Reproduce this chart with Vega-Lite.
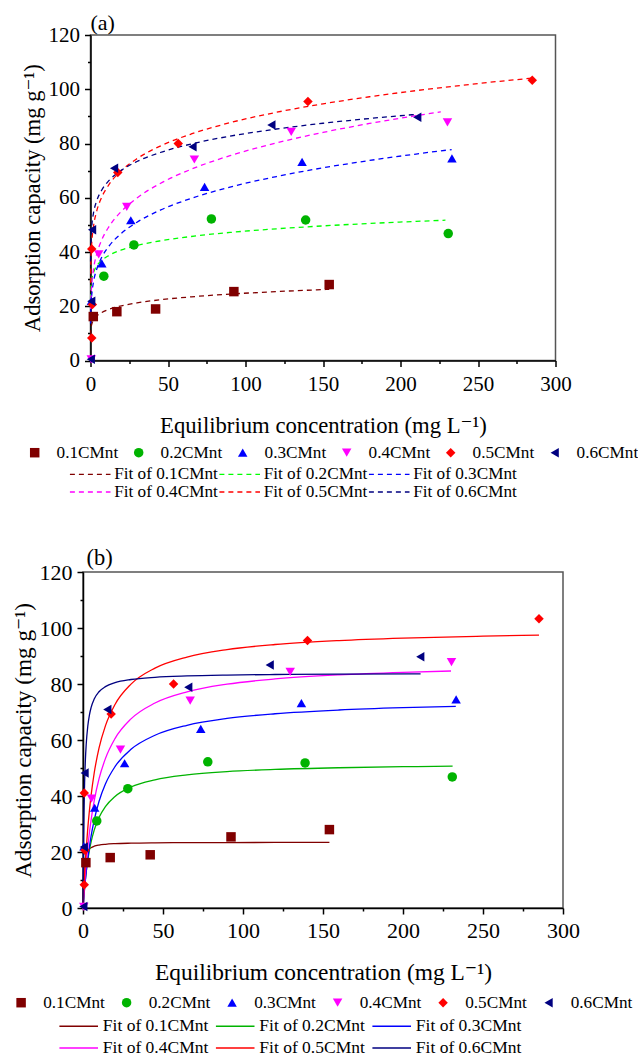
{
  "$schema": "https://vega.github.io/schema/vega-lite/v6.json",
  "background": "white",
  "padding": {"left": 10, "top": 11, "right": 0, "bottom": 0},
  "config": {
    "font": "Liberation Serif, Times New Roman, Times, DejaVu Serif, serif",
    "view": {"stroke": "#555555", "strokeWidth": 1.5},
    "axis": {"domainColor": "#000000", "domainWidth": 1.5, "tickColor": "#000000", "tickWidth": 1.5, "labelColor": "#000000", "titleColor": "#000000", "grid": false, "labelFont": "Liberation Serif, Times New Roman, Times, DejaVu Serif, serif", "titleFont": "Liberation Serif, Times New Roman, Times, DejaVu Serif, serif", "titleFontWeight": "normal", "labelOverlap": false, "labelFlush": false, "labelBound": false},
    "style": {"guide-label": {"font": "Liberation Serif, Times New Roman, Times, DejaVu Serif, serif"}, "guide-title": {"font": "Liberation Serif, Times New Roman, Times, DejaVu Serif, serif", "fontWeight": "normal"}},
    "legend": {"labelFont": "Liberation Serif, Times New Roman, Times, DejaVu Serif, serif", "labelColor": "#000000", "padding": 0},
    "title": {"font": "Liberation Serif, Times New Roman, Times, DejaVu Serif, serif", "fontWeight": "normal", "color": "#000000"}
  },
  "datasets": {
    "pts": [
      {"series": "0.1CMnt", "x": 1.8, "y": 16.2}, {"series": "0.1CMnt", "x": 17, "y": 18.0}, {"series": "0.1CMnt", "x": 42, "y": 19.0}, {"series": "0.1CMnt", "x": 92.5, "y": 25.4}, {"series": "0.1CMnt", "x": 154, "y": 28.0},
      {"series": "0.2CMnt", "x": 8.6, "y": 31.1}, {"series": "0.2CMnt", "x": 28, "y": 42.6}, {"series": "0.2CMnt", "x": 78, "y": 52.2}, {"series": "0.2CMnt", "x": 138.8, "y": 51.8}, {"series": "0.2CMnt", "x": 230.8, "y": 46.8},
      {"series": "0.3CMnt", "x": 0.6, "y": 22.0}, {"series": "0.3CMnt", "x": 7.3, "y": 35.8}, {"series": "0.3CMnt", "x": 26, "y": 51.7}, {"series": "0.3CMnt", "x": 73.6, "y": 64.0}, {"series": "0.3CMnt", "x": 136.5, "y": 73.2}, {"series": "0.3CMnt", "x": 233.2, "y": 74.5},
      {"series": "0.4CMnt", "x": 0.5, "y": 0.4}, {"series": "0.4CMnt", "x": 5.3, "y": 39.1}, {"series": "0.4CMnt", "x": 23.4, "y": 56.6}, {"series": "0.4CMnt", "x": 67, "y": 74.1}, {"series": "0.4CMnt", "x": 129.5, "y": 84.3}, {"series": "0.4CMnt", "x": 230.3, "y": 87.8},
      {"series": "0.5CMnt", "x": 0.8, "y": 8.3}, {"series": "0.5CMnt", "x": 1.2, "y": 20.6}, {"series": "0.5CMnt", "x": 0.8, "y": 41.1}, {"series": "0.5CMnt", "x": 17.6, "y": 69.3}, {"series": "0.5CMnt", "x": 56.6, "y": 80.0}, {"series": "0.5CMnt", "x": 140.3, "y": 95.5}, {"series": "0.5CMnt", "x": 285, "y": 103.3},
      {"series": "0.6CMnt", "x": 0.2, "y": 0.5}, {"series": "0.6CMnt", "x": 0.5, "y": 21.8}, {"series": "0.6CMnt", "x": 1.0, "y": 48.2}, {"series": "0.6CMnt", "x": 15.2, "y": 70.9}, {"series": "0.6CMnt", "x": 65.8, "y": 78.8}, {"series": "0.6CMnt", "x": 116.7, "y": 86.8}, {"series": "0.6CMnt", "x": 210.8, "y": 89.7}
    ],
    "fr": [
      {"fit": "Fit of 0.1CMnt", "x": 0.05, "y": 9.31}, {"fit": "Fit of 0.1CMnt", "x": 0.2, "y": 11.13}, {"fit": "Fit of 0.1CMnt", "x": 0.5, "y": 12.53}, {"fit": "Fit of 0.1CMnt", "x": 1, "y": 13.70}, {"fit": "Fit of 0.1CMnt", "x": 2, "y": 14.98}, {"fit": "Fit of 0.1CMnt", "x": 4, "y": 16.38}, {"fit": "Fit of 0.1CMnt", "x": 7, "y": 17.61}, {"fit": "Fit of 0.1CMnt", "x": 12, "y": 18.88}, {"fit": "Fit of 0.1CMnt", "x": 20, "y": 20.16}, {"fit": "Fit of 0.1CMnt", "x": 30, "y": 21.24}, {"fit": "Fit of 0.1CMnt", "x": 45, "y": 22.39}, {"fit": "Fit of 0.1CMnt", "x": 65, "y": 23.47}, {"fit": "Fit of 0.1CMnt", "x": 90, "y": 24.48}, {"fit": "Fit of 0.1CMnt", "x": 120, "y": 25.40}, {"fit": "Fit of 0.1CMnt", "x": 154, "y": 26.24},
      {"fit": "Fit of 0.2CMnt", "x": 0.05, "y": 22.68}, {"fit": "Fit of 0.2CMnt", "x": 0.2, "y": 25.97}, {"fit": "Fit of 0.2CMnt", "x": 0.5, "y": 28.41}, {"fit": "Fit of 0.2CMnt", "x": 1, "y": 30.40}, {"fit": "Fit of 0.2CMnt", "x": 2, "y": 32.53}, {"fit": "Fit of 0.2CMnt", "x": 4, "y": 34.81}, {"fit": "Fit of 0.2CMnt", "x": 7, "y": 36.77}, {"fit": "Fit of 0.2CMnt", "x": 12, "y": 38.76}, {"fit": "Fit of 0.2CMnt", "x": 20, "y": 40.75}, {"fit": "Fit of 0.2CMnt", "x": 30, "y": 42.40}, {"fit": "Fit of 0.2CMnt", "x": 45, "y": 44.11}, {"fit": "Fit of 0.2CMnt", "x": 65, "y": 45.72}, {"fit": "Fit of 0.2CMnt", "x": 90, "y": 47.21}, {"fit": "Fit of 0.2CMnt", "x": 120, "y": 48.55}, {"fit": "Fit of 0.2CMnt", "x": 150, "y": 49.62}, {"fit": "Fit of 0.2CMnt", "x": 180, "y": 50.52}, {"fit": "Fit of 0.2CMnt", "x": 210, "y": 51.28}, {"fit": "Fit of 0.2CMnt", "x": 229, "y": 51.72},
      {"fit": "Fit of 0.3CMnt", "x": 0.05, "y": 13.65}, {"fit": "Fit of 0.3CMnt", "x": 0.2, "y": 18.16}, {"fit": "Fit of 0.3CMnt", "x": 0.5, "y": 21.93}, {"fit": "Fit of 0.3CMnt", "x": 1, "y": 25.30}, {"fit": "Fit of 0.3CMnt", "x": 2, "y": 29.18}, {"fit": "Fit of 0.3CMnt", "x": 4, "y": 33.66}, {"fit": "Fit of 0.3CMnt", "x": 7, "y": 37.78}, {"fit": "Fit of 0.3CMnt", "x": 12, "y": 42.21}, {"fit": "Fit of 0.3CMnt", "x": 20, "y": 46.90}, {"fit": "Fit of 0.3CMnt", "x": 30, "y": 50.98}, {"fit": "Fit of 0.3CMnt", "x": 45, "y": 55.43}, {"fit": "Fit of 0.3CMnt", "x": 65, "y": 59.78}, {"fit": "Fit of 0.3CMnt", "x": 90, "y": 63.93}, {"fit": "Fit of 0.3CMnt", "x": 120, "y": 67.82}, {"fit": "Fit of 0.3CMnt", "x": 150, "y": 71.03}, {"fit": "Fit of 0.3CMnt", "x": 180, "y": 73.74}, {"fit": "Fit of 0.3CMnt", "x": 210, "y": 76.12}, {"fit": "Fit of 0.3CMnt", "x": 233, "y": 77.77},
      {"fit": "Fit of 0.4CMnt", "x": 0.05, "y": 15.60}, {"fit": "Fit of 0.4CMnt", "x": 0.2, "y": 20.88}, {"fit": "Fit of 0.4CMnt", "x": 0.5, "y": 25.32}, {"fit": "Fit of 0.4CMnt", "x": 1, "y": 29.30}, {"fit": "Fit of 0.4CMnt", "x": 2, "y": 33.90}, {"fit": "Fit of 0.4CMnt", "x": 4, "y": 39.22}, {"fit": "Fit of 0.4CMnt", "x": 7, "y": 44.12}, {"fit": "Fit of 0.4CMnt", "x": 12, "y": 49.42}, {"fit": "Fit of 0.4CMnt", "x": 20, "y": 55.03}, {"fit": "Fit of 0.4CMnt", "x": 30, "y": 59.93}, {"fit": "Fit of 0.4CMnt", "x": 45, "y": 65.27}, {"fit": "Fit of 0.4CMnt", "x": 65, "y": 70.51}, {"fit": "Fit of 0.4CMnt", "x": 90, "y": 75.52}, {"fit": "Fit of 0.4CMnt", "x": 120, "y": 80.22}, {"fit": "Fit of 0.4CMnt", "x": 150, "y": 84.09}, {"fit": "Fit of 0.4CMnt", "x": 180, "y": 87.38}, {"fit": "Fit of 0.4CMnt", "x": 210, "y": 90.25}, {"fit": "Fit of 0.4CMnt", "x": 226, "y": 91.67},
      {"fit": "Fit of 0.5CMnt", "x": 0.05, "y": 28.65}, {"fit": "Fit of 0.5CMnt", "x": 0.2, "y": 35.24}, {"fit": "Fit of 0.5CMnt", "x": 0.5, "y": 40.40}, {"fit": "Fit of 0.5CMnt", "x": 1, "y": 44.80}, {"fit": "Fit of 0.5CMnt", "x": 2, "y": 49.68}, {"fit": "Fit of 0.5CMnt", "x": 4, "y": 55.09}, {"fit": "Fit of 0.5CMnt", "x": 7, "y": 59.89}, {"fit": "Fit of 0.5CMnt", "x": 12, "y": 64.91}, {"fit": "Fit of 0.5CMnt", "x": 20, "y": 70.05}, {"fit": "Fit of 0.5CMnt", "x": 30, "y": 74.41}, {"fit": "Fit of 0.5CMnt", "x": 45, "y": 79.06}, {"fit": "Fit of 0.5CMnt", "x": 65, "y": 83.51}, {"fit": "Fit of 0.5CMnt", "x": 90, "y": 87.67}, {"fit": "Fit of 0.5CMnt", "x": 120, "y": 91.51}, {"fit": "Fit of 0.5CMnt", "x": 150, "y": 94.62}, {"fit": "Fit of 0.5CMnt", "x": 180, "y": 97.23}, {"fit": "Fit of 0.5CMnt", "x": 210, "y": 99.49}, {"fit": "Fit of 0.5CMnt", "x": 250, "y": 102.10}, {"fit": "Fit of 0.5CMnt", "x": 285, "y": 104.12},
      {"fit": "Fit of 0.6CMnt", "x": 0.05, "y": 36.48}, {"fit": "Fit of 0.6CMnt", "x": 0.2, "y": 42.45}, {"fit": "Fit of 0.6CMnt", "x": 0.5, "y": 46.91}, {"fit": "Fit of 0.6CMnt", "x": 1, "y": 50.60}, {"fit": "Fit of 0.6CMnt", "x": 2, "y": 54.58}, {"fit": "Fit of 0.6CMnt", "x": 4, "y": 58.87}, {"fit": "Fit of 0.6CMnt", "x": 7, "y": 62.58}, {"fit": "Fit of 0.6CMnt", "x": 12, "y": 66.38}, {"fit": "Fit of 0.6CMnt", "x": 20, "y": 70.19}, {"fit": "Fit of 0.6CMnt", "x": 30, "y": 73.36}, {"fit": "Fit of 0.6CMnt", "x": 45, "y": 76.68}, {"fit": "Fit of 0.6CMnt", "x": 65, "y": 79.82}, {"fit": "Fit of 0.6CMnt", "x": 90, "y": 82.71}, {"fit": "Fit of 0.6CMnt", "x": 120, "y": 85.34}, {"fit": "Fit of 0.6CMnt", "x": 150, "y": 87.46}, {"fit": "Fit of 0.6CMnt", "x": 180, "y": 89.22}, {"fit": "Fit of 0.6CMnt", "x": 211, "y": 90.78}
    ],
    "lg": [
      {"fit": "Fit of 0.1CMnt", "x": 0.02, "y": 0.99}, {"fit": "Fit of 0.1CMnt", "x": 0.1, "y": 4.24}, {"fit": "Fit of 0.1CMnt", "x": 0.3, "y": 9.34}, {"fit": "Fit of 0.1CMnt", "x": 0.6, "y": 13.37}, {"fit": "Fit of 0.1CMnt", "x": 1, "y": 16.16}, {"fit": "Fit of 0.1CMnt", "x": 1.5, "y": 18.03}, {"fit": "Fit of 0.1CMnt", "x": 2, "y": 19.15}, {"fit": "Fit of 0.1CMnt", "x": 3, "y": 20.41}, {"fit": "Fit of 0.1CMnt", "x": 4, "y": 21.10}, {"fit": "Fit of 0.1CMnt", "x": 5, "y": 21.54}, {"fit": "Fit of 0.1CMnt", "x": 7, "y": 22.07}, {"fit": "Fit of 0.1CMnt", "x": 10, "y": 22.48}, {"fit": "Fit of 0.1CMnt", "x": 14, "y": 22.76}, {"fit": "Fit of 0.1CMnt", "x": 20, "y": 22.98}, {"fit": "Fit of 0.1CMnt", "x": 30, "y": 23.15}, {"fit": "Fit of 0.1CMnt", "x": 45, "y": 23.27}, {"fit": "Fit of 0.1CMnt", "x": 65, "y": 23.34}, {"fit": "Fit of 0.1CMnt", "x": 90, "y": 23.38}, {"fit": "Fit of 0.1CMnt", "x": 120, "y": 23.41}, {"fit": "Fit of 0.1CMnt", "x": 154, "y": 23.43},
      {"fit": "Fit of 0.2CMnt", "x": 0.1, "y": 0.84}, {"fit": "Fit of 0.2CMnt", "x": 0.3, "y": 2.44}, {"fit": "Fit of 0.2CMnt", "x": 0.6, "y": 4.66}, {"fit": "Fit of 0.2CMnt", "x": 1, "y": 7.33}, {"fit": "Fit of 0.2CMnt", "x": 1.5, "y": 10.27}, {"fit": "Fit of 0.2CMnt", "x": 2, "y": 12.84}, {"fit": "Fit of 0.2CMnt", "x": 3, "y": 17.15}, {"fit": "Fit of 0.2CMnt", "x": 4, "y": 20.60}, {"fit": "Fit of 0.2CMnt", "x": 5, "y": 23.43}, {"fit": "Fit of 0.2CMnt", "x": 7, "y": 27.79}, {"fit": "Fit of 0.2CMnt", "x": 10, "y": 32.30}, {"fit": "Fit of 0.2CMnt", "x": 14, "y": 36.22}, {"fit": "Fit of 0.2CMnt", "x": 20, "y": 39.85}, {"fit": "Fit of 0.2CMnt", "x": 30, "y": 43.22}, {"fit": "Fit of 0.2CMnt", "x": 45, "y": 45.80}, {"fit": "Fit of 0.2CMnt", "x": 65, "y": 47.54}, {"fit": "Fit of 0.2CMnt", "x": 90, "y": 48.70}, {"fit": "Fit of 0.2CMnt", "x": 120, "y": 49.48}, {"fit": "Fit of 0.2CMnt", "x": 160, "y": 50.09}, {"fit": "Fit of 0.2CMnt", "x": 200, "y": 50.46}, {"fit": "Fit of 0.2CMnt", "x": 231, "y": 50.66},
      {"fit": "Fit of 0.3CMnt", "x": 0.1, "y": 0.76}, {"fit": "Fit of 0.3CMnt", "x": 0.3, "y": 2.25}, {"fit": "Fit of 0.3CMnt", "x": 0.6, "y": 4.37}, {"fit": "Fit of 0.3CMnt", "x": 1, "y": 7.00}, {"fit": "Fit of 0.3CMnt", "x": 1.5, "y": 10.04}, {"fit": "Fit of 0.3CMnt", "x": 2, "y": 12.81}, {"fit": "Fit of 0.3CMnt", "x": 3, "y": 17.71}, {"fit": "Fit of 0.3CMnt", "x": 4, "y": 21.88}, {"fit": "Fit of 0.3CMnt", "x": 5, "y": 25.50}, {"fit": "Fit of 0.3CMnt", "x": 7, "y": 31.42}, {"fit": "Fit of 0.3CMnt", "x": 10, "y": 38.05}, {"fit": "Fit of 0.3CMnt", "x": 14, "y": 44.29}, {"fit": "Fit of 0.3CMnt", "x": 20, "y": 50.49}, {"fit": "Fit of 0.3CMnt", "x": 30, "y": 56.66}, {"fit": "Fit of 0.3CMnt", "x": 45, "y": 61.69}, {"fit": "Fit of 0.3CMnt", "x": 65, "y": 65.25}, {"fit": "Fit of 0.3CMnt", "x": 90, "y": 67.70}, {"fit": "Fit of 0.3CMnt", "x": 120, "y": 69.38}, {"fit": "Fit of 0.3CMnt", "x": 160, "y": 70.71}, {"fit": "Fit of 0.3CMnt", "x": 200, "y": 71.53}, {"fit": "Fit of 0.3CMnt", "x": 233, "y": 72.00},
      {"fit": "Fit of 0.4CMnt", "x": 0.1, "y": 0.96}, {"fit": "Fit of 0.4CMnt", "x": 0.3, "y": 2.81}, {"fit": "Fit of 0.4CMnt", "x": 0.6, "y": 5.45}, {"fit": "Fit of 0.4CMnt", "x": 1, "y": 8.72}, {"fit": "Fit of 0.4CMnt", "x": 1.5, "y": 12.46}, {"fit": "Fit of 0.4CMnt", "x": 2, "y": 15.87}, {"fit": "Fit of 0.4CMnt", "x": 3, "y": 21.83}, {"fit": "Fit of 0.4CMnt", "x": 4, "y": 26.89}, {"fit": "Fit of 0.4CMnt", "x": 5, "y": 31.23}, {"fit": "Fit of 0.4CMnt", "x": 7, "y": 38.28}, {"fit": "Fit of 0.4CMnt", "x": 10, "y": 46.10}, {"fit": "Fit of 0.4CMnt", "x": 14, "y": 53.35}, {"fit": "Fit of 0.4CMnt", "x": 20, "y": 60.50}, {"fit": "Fit of 0.4CMnt", "x": 30, "y": 67.53}, {"fit": "Fit of 0.4CMnt", "x": 45, "y": 73.21}, {"fit": "Fit of 0.4CMnt", "x": 65, "y": 77.20}, {"fit": "Fit of 0.4CMnt", "x": 90, "y": 79.93}, {"fit": "Fit of 0.4CMnt", "x": 120, "y": 81.80}, {"fit": "Fit of 0.4CMnt", "x": 160, "y": 83.27}, {"fit": "Fit of 0.4CMnt", "x": 200, "y": 84.17}, {"fit": "Fit of 0.4CMnt", "x": 230, "y": 84.65},
      {"fit": "Fit of 0.5CMnt", "x": 0.1, "y": 1.31}, {"fit": "Fit of 0.5CMnt", "x": 0.3, "y": 3.84}, {"fit": "Fit of 0.5CMnt", "x": 0.6, "y": 7.39}, {"fit": "Fit of 0.5CMnt", "x": 1, "y": 11.74}, {"fit": "Fit of 0.5CMnt", "x": 1.5, "y": 16.63}, {"fit": "Fit of 0.5CMnt", "x": 2, "y": 21.01}, {"fit": "Fit of 0.5CMnt", "x": 3, "y": 28.52}, {"fit": "Fit of 0.5CMnt", "x": 4, "y": 34.73}, {"fit": "Fit of 0.5CMnt", "x": 5, "y": 39.94}, {"fit": "Fit of 0.5CMnt", "x": 7, "y": 48.21}, {"fit": "Fit of 0.5CMnt", "x": 10, "y": 57.08}, {"fit": "Fit of 0.5CMnt", "x": 14, "y": 65.06}, {"fit": "Fit of 0.5CMnt", "x": 20, "y": 72.68}, {"fit": "Fit of 0.5CMnt", "x": 30, "y": 79.96}, {"fit": "Fit of 0.5CMnt", "x": 45, "y": 85.68}, {"fit": "Fit of 0.5CMnt", "x": 65, "y": 89.63}, {"fit": "Fit of 0.5CMnt", "x": 90, "y": 92.29}, {"fit": "Fit of 0.5CMnt", "x": 120, "y": 94.10}, {"fit": "Fit of 0.5CMnt", "x": 160, "y": 95.51}, {"fit": "Fit of 0.5CMnt", "x": 200, "y": 96.38}, {"fit": "Fit of 0.5CMnt", "x": 250, "y": 97.08}, {"fit": "Fit of 0.5CMnt", "x": 285, "y": 97.43},
      {"fit": "Fit of 0.6CMnt", "x": 0.02, "y": 1.87}, {"fit": "Fit of 0.6CMnt", "x": 0.1, "y": 8.60}, {"fit": "Fit of 0.6CMnt", "x": 0.3, "y": 21.41}, {"fit": "Fit of 0.6CMnt", "x": 0.6, "y": 34.12}, {"fit": "Fit of 0.6CMnt", "x": 1, "y": 44.75}, {"fit": "Fit of 0.6CMnt", "x": 1.5, "y": 53.00}, {"fit": "Fit of 0.6CMnt", "x": 2, "y": 58.39}, {"fit": "Fit of 0.6CMnt", "x": 3, "y": 65.00}, {"fit": "Fit of 0.6CMnt", "x": 4, "y": 68.89}, {"fit": "Fit of 0.6CMnt", "x": 5, "y": 71.46}, {"fit": "Fit of 0.6CMnt", "x": 7, "y": 74.64}, {"fit": "Fit of 0.6CMnt", "x": 10, "y": 77.23}, {"fit": "Fit of 0.6CMnt", "x": 14, "y": 79.05}, {"fit": "Fit of 0.6CMnt", "x": 20, "y": 80.47}, {"fit": "Fit of 0.6CMnt", "x": 30, "y": 81.61}, {"fit": "Fit of 0.6CMnt", "x": 45, "y": 82.40}, {"fit": "Fit of 0.6CMnt", "x": 65, "y": 82.88}, {"fit": "Fit of 0.6CMnt", "x": 90, "y": 83.19}, {"fit": "Fit of 0.6CMnt", "x": 120, "y": 83.39}, {"fit": "Fit of 0.6CMnt", "x": 160, "y": 83.54}, {"fit": "Fit of 0.6CMnt", "x": 211, "y": 83.65}
    ]
  },
  "spacing": 211,
  "bounds": "flush",
  "center": true,
  "resolve": {
    "scale": {"x": "independent", "y": "independent", "color": "independent", "shape": "independent", "stroke": "independent"},
    "axis": {"x": "independent", "y": "independent"},
    "legend": {"color": "independent", "shape": "independent", "stroke": "independent"}
  },
  "vconcat": [
    {
      "width": 465,
      "height": 325.5,
      "title": {"text": "(a)", "fontSize": 22, "offset": -11, "anchor": "start", "frame": "group"},
      "encoding": {
        "x": {"field": "x", "type": "quantitative", "scale": {"domain": [0, 300], "nice": false},
          "axis": {"values": [0, 25, 50, 75, 100, 125, 150, 175, 200, 225, 250, 275, 300], "labelExpr": "datum.value % 50 === 0 ? datum.label : ''", "tickSize": {"condition": {"test": "datum.value % 50 === 0", "value": 6}, "value": 3}, "labelFont": "Liberation Serif, Times New Roman, Times, DejaVu Serif, serif", "titleFont": "Liberation Serif, Times New Roman, Times, DejaVu Serif, serif", "labelFontSize": 21, "labelPadding": 6.5, "title": "Equilibrium concentration (mg L⁻¹)", "titleFontSize": 22.7, "titlePadding": 20}},
        "y": {"field": "y", "type": "quantitative", "scale": {"domain": [0, 120], "nice": false},
          "axis": {"values": [0, 10, 20, 30, 40, 50, 60, 70, 80, 90, 100, 110, 120], "labelExpr": "datum.value % 20 === 0 ? datum.label : ''", "tickSize": {"condition": {"test": "datum.value % 20 === 0", "value": 6}, "value": 3}, "labelFont": "Liberation Serif, Times New Roman, Times, DejaVu Serif, serif", "titleFont": "Liberation Serif, Times New Roman, Times, DejaVu Serif, serif", "labelFontSize": 21, "labelPadding": 5, "title": "Adsorption capacity (mg g⁻¹)", "titleFontSize": 22.6, "titlePadding": 4}}
      },
      "layer": [
        {
          "data": {"name": "fr"},
          "mark": {"type": "line", "strokeDash": [5, 4], "strokeWidth": 1.3, "interpolate": "monotone"},
          "encoding": {
            "stroke": {"field": "fit", "type": "nominal",
              "scale": {"domain": ["Fit of 0.1CMnt", "Fit of 0.2CMnt", "Fit of 0.3CMnt", "Fit of 0.4CMnt", "Fit of 0.5CMnt", "Fit of 0.6CMnt"], "range": ["#800000", "#00ff00", "#0000ff", "#ff00ff", "#ff0000", "#000080"]},
              "legend": {"orient": "none", "legendX": -21.3, "legendY": 431, "direction": "horizontal", "columns": 3, "columnPadding": 0.5, "rowPadding": 0, "labelFontSize": 17.2, "labelOffset": 3, "symbolType": "stroke", "symbolSize": 1650, "symbolStrokeWidth": 1.3, "symbolDash": [5, 4], "clipHeight": 16, "title": null}}
          }
        },
        {
          "data": {"name": "pts"},
          "mark": {"type": "point", "filled": true, "size": 90, "opacity": 1},
          "encoding": {
            "color": {"field": "series", "type": "nominal",
              "scale": {"domain": ["0.1CMnt", "0.2CMnt", "0.3CMnt", "0.4CMnt", "0.5CMnt", "0.6CMnt"], "range": ["#800000", "#00b300", "#0000ff", "#ff00ff", "#ff0000", "#000080"]},
              "legend": {"orient": "none", "legendX": -64.4, "legendY": 409, "direction": "horizontal", "columns": 6, "columnPadding": 11, "labelFontSize": 17.2, "labelOffset": 13.3, "symbolSize": 90, "symbolOpacity": 1, "title": null}},
            "shape": {"field": "series", "type": "nominal",
              "scale": {"domain": ["0.1CMnt", "0.2CMnt", "0.3CMnt", "0.4CMnt", "0.5CMnt", "0.6CMnt"], "range": ["square", "circle", "triangle-up", "triangle-down", "diamond", "triangle-left"]},
              "legend": {"orient": "none", "legendX": -64.4, "legendY": 409, "direction": "horizontal", "columns": 6, "columnPadding": 11, "labelFontSize": 17.2, "labelOffset": 13.3, "symbolSize": 90, "symbolOpacity": 1, "title": null}}
          }
        }
      ]
    },
    {
      "width": 480,
      "height": 336,
      "title": {"text": "(b)", "fontSize": 22.5, "offset": -8, "anchor": "start", "frame": "group", "dx": 3.5},
      "encoding": {
        "x": {"field": "x", "type": "quantitative", "scale": {"domain": [0, 300], "nice": false},
          "axis": {"values": [0, 25, 50, 75, 100, 125, 150, 175, 200, 225, 250, 275, 300], "labelExpr": "datum.value % 50 === 0 ? datum.label : ''", "tickSize": {"condition": {"test": "datum.value % 50 === 0", "value": 6}, "value": 3}, "labelFont": "Liberation Serif, Times New Roman, Times, DejaVu Serif, serif", "titleFont": "Liberation Serif, Times New Roman, Times, DejaVu Serif, serif", "labelFontSize": 22, "labelPadding": 6, "title": "Equilibrium concentration (mg L⁻¹)", "titleFontSize": 23.4, "titlePadding": 20}},
        "y": {"field": "y", "type": "quantitative", "scale": {"domain": [0, 120], "nice": false},
          "axis": {"values": [0, 10, 20, 30, 40, 50, 60, 70, 80, 90, 100, 110, 120], "labelExpr": "datum.value % 20 === 0 ? datum.label : ''", "tickSize": {"condition": {"test": "datum.value % 20 === 0", "value": 6}, "value": 3}, "labelFont": "Liberation Serif, Times New Roman, Times, DejaVu Serif, serif", "titleFont": "Liberation Serif, Times New Roman, Times, DejaVu Serif, serif", "labelFontSize": 22, "labelPadding": 5, "title": "Adsorption capacity (mg g⁻¹)", "titleFontSize": 23.2, "titlePadding": 4}}
      },
      "layer": [
        {
          "data": {"name": "lg"},
          "mark": {"type": "line", "strokeWidth": 1.3, "interpolate": "monotone"},
          "encoding": {
            "stroke": {"field": "fit", "type": "nominal",
              "scale": {"domain": ["Fit of 0.1CMnt", "Fit of 0.2CMnt", "Fit of 0.3CMnt", "Fit of 0.4CMnt", "Fit of 0.5CMnt", "Fit of 0.6CMnt"], "range": ["#800000", "#00b300", "#0000ff", "#ff00ff", "#ff0000", "#000080"]},
              "legend": {"orient": "none", "legendX": -24.3, "legendY": 446, "direction": "horizontal", "columns": 3, "columnPadding": 6.5, "rowPadding": 4, "labelFontSize": 17.5, "labelOffset": 4.1, "symbolType": "stroke", "symbolSize": 1490, "symbolStrokeWidth": 1.3, "clipHeight": 16, "title": null}}
          }
        },
        {
          "data": {"name": "pts"},
          "mark": {"type": "point", "filled": true, "size": 90, "opacity": 1},
          "encoding": {
            "color": {"field": "series", "type": "nominal",
              "scale": {"domain": ["0.1CMnt", "0.2CMnt", "0.3CMnt", "0.4CMnt", "0.5CMnt", "0.6CMnt"], "range": ["#800000", "#00b300", "#0000ff", "#ff00ff", "#ff0000", "#000080"]},
              "legend": {"orient": "none", "legendX": -70.5, "legendY": 422, "direction": "horizontal", "columns": 6, "columnPadding": 12.5, "labelFontSize": 17.2, "labelOffset": 13.5, "symbolSize": 90, "symbolOpacity": 1, "title": null}},
            "shape": {"field": "series", "type": "nominal",
              "scale": {"domain": ["0.1CMnt", "0.2CMnt", "0.3CMnt", "0.4CMnt", "0.5CMnt", "0.6CMnt"], "range": ["square", "circle", "triangle-up", "triangle-down", "diamond", "triangle-left"]},
              "legend": {"orient": "none", "legendX": -70.5, "legendY": 422, "direction": "horizontal", "columns": 6, "columnPadding": 12.5, "labelFontSize": 17.2, "labelOffset": 13.5, "symbolSize": 90, "symbolOpacity": 1, "title": null}}
          }
        }
      ]
    }
  ]
}
